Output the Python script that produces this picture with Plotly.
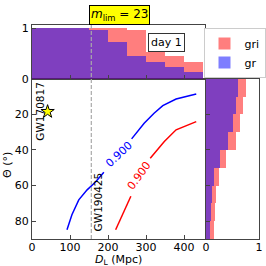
import plotly.graph_objects as go

# ---- data ----
dl_bin_centers = [25, 75, 125, 175, 225, 275, 325, 375, 425]
top_gri = [1.0, 1.0, 1.0, 1.0, 1.0, 0.97, 0.53, 0.45, 0.32]
top_gr = [1.0, 1.0, 1.0, 0.97, 0.73, 0.45, 0.32, 0.24, 0.13]

theta_bin_centers = [5, 15, 25, 35, 45, 55, 65, 75, 85]
right_gri = [0.75, 0.69, 0.65, 0.57, 0.38, 0.25, 0.195, 0.17, 0.15]
right_gr = [0.60, 0.56, 0.50, 0.42, 0.27, 0.145, 0.11, 0.09, 0.075]

blue_dl = [92, 105, 123, 145, 167, 189, None, 262, 295, 321, 344, 379, 432]
blue_theta = [84.8, 76.4, 68, 62.4, 58, 52.5, None, 33.8, 25, 19.4, 15.1, 11.4, 8.6]
red_dl = [220, 260, None, 311, 348, 379, 432]
red_theta = [84.8, 66, None, 44.6, 35.3, 28.7, 24.1]

gw170817 = (41, 18.5)
gw190425_dl = 156

W = H = 266
def px(v):
    return v / W
def py(v):
    return 1 - v / H

main_x = [px(32), px(205)]
main_y = [py(239), py(78.7)]
top_y = [py(78.7), py(25)]
right_x = [px(206), px(259)]

AX = dict(showline=True, linecolor="#444", linewidth=1, mirror=True,
          ticks="inside", ticklen=4, tickcolor="#444", showgrid=False, automargin=False,
          zeroline=False, tickfont=dict(family="DejaVu Sans", size=11, color="black"))

fig = go.Figure()

# top histogram
fig.add_trace(go.Bar(x=dl_bin_centers, y=top_gri, width=50, marker=dict(color="red", line=dict(width=0)),
                     opacity=0.5, name="gri", xaxis="x2", yaxis="y2", legendgroup="gri"))
fig.add_trace(go.Bar(x=dl_bin_centers, y=top_gr, width=50, marker=dict(color="blue", line=dict(width=0)),
                     opacity=0.5, name="gr", xaxis="x2", yaxis="y2", legendgroup="gr"))
# right histogram
fig.add_trace(go.Bar(y=theta_bin_centers, x=right_gri, width=10, orientation="h",
                     marker=dict(color="red", line=dict(width=0)), opacity=0.5,
                     showlegend=False, xaxis="x3", yaxis="y3", legendgroup="gri"))
fig.add_trace(go.Bar(y=theta_bin_centers, x=right_gr, width=10, orientation="h",
                     marker=dict(color="blue", line=dict(width=0)), opacity=0.5,
                     showlegend=False, xaxis="x3", yaxis="y3", legendgroup="gr"))

# contour lines
fig.add_trace(go.Scatter(x=blue_dl, y=blue_theta, mode="lines", line=dict(color="blue", width=1.5),
                         showlegend=False, connectgaps=False))
fig.add_trace(go.Scatter(x=red_dl, y=red_theta, mode="lines", line=dict(color="red", width=1.5),
                         showlegend=False, connectgaps=False))
# GW170817 star
fig.add_trace(go.Scatter(x=[gw170817[0]], y=[gw170817[1]], mode="markers",
                         marker=dict(symbol="star", size=10, color="yellow", line=dict(color="black", width=1)),
                         showlegend=False))

fig.update_layout(
    width=W, height=H, autosize=False,
    margin=dict(l=0, r=0, t=0, b=0, pad=0, autoexpand=False),
    paper_bgcolor="white", plot_bgcolor="white",
    barmode="overlay", bargap=0,
    font=dict(family="DejaVu Sans", size=11, color="black"),
    xaxis=dict(AX, domain=main_x, range=[0, 455], anchor="y", tickvals=[0, 100, 200, 300, 400],
               ticklabelstandoff=-2),
    yaxis=dict(AX, domain=main_y, range=[90, 0], anchor="x", tickvals=[20, 40, 60, 80]),
    xaxis2=dict(AX, domain=main_x, range=[0, 455], anchor="y2", tickvals=[100, 200, 300, 400], showticklabels=False),
    yaxis2=dict(AX, domain=top_y, range=[0, 1.06], anchor="x2", tickvals=[0, 1]),
    xaxis3=dict(AX, domain=right_x, range=[0, 1], anchor="y3", tickvals=[0, 1], ticklabelstandoff=-2),
    yaxis3=dict(AX, domain=main_y, range=[90, 0], anchor="x3", tickvals=[20, 40, 60, 80], showticklabels=False),
    legend=dict(x=px(265.5), y=py(28), xanchor="right", yanchor="top", bgcolor="white",
                bordercolor="#cccccc", borderwidth=1, font=dict(size=11), tracegroupgap=0,
                itemwidth=30),
    showlegend=True,
)

fig.add_shape(type="line", xref="x", yref="paper", x0=gw190425_dl, x1=gw190425_dl,
              y0=main_y[0], y1=top_y[1], line=dict(color="#aaaaaa", width=1.2, dash="4px,2px"))

C = dict(xanchor="center", yanchor="middle", showarrow=False)
ann = [
    dict(text="<i>m</i><sub>lim</sub> = 23", xref="paper", yref="paper", x=px(119), y=py(25),
         xanchor="center", yanchor="bottom", showarrow=False, bgcolor="yellow",
         bordercolor="black", borderwidth=1, borderpad=1, font=dict(size=12)),
    dict(C, text="day 1", xref="paper", yref="paper", x=px(166), y=py(43),
         bgcolor="white", bordercolor="#333", borderwidth=1, borderpad=2, font=dict(size=11)),
    dict(C, text="0.900", x=228, y=42.3, xref="x", yref="y", textangle=-43,
         font=dict(color="blue", size=11)),
    dict(C, text="0.900", x=282, y=54.2, xref="x", yref="y", textangle=-54,
         font=dict(color="red", size=11)),
    dict(C, text="GW170817", x=21, y=18, xref="x", yref="y", textangle=-90, font=dict(size=10.5)),
    dict(C, text="GW190425", x=173, y=69, xref="x", yref="y", textangle=-90, font=dict(size=10.5)),
    dict(C, text="Θ (°)", xref="paper", yref="paper", x=px(7), y=py(165), textangle=-90,
         font=dict(size=11)),
    dict(C, text="<i>D</i><sub>L</sub> (Mpc)", xref="paper", yref="paper", x=px(118), y=py(259.5),
         font=dict(size=11)),
]
fig.update_layout(annotations=ann)

fig.write_html("out.html", config={"displayModeBar": False, "staticPlot": True},
               post_script="document.body.style.margin='0';document.body.style.overflow='hidden';")
